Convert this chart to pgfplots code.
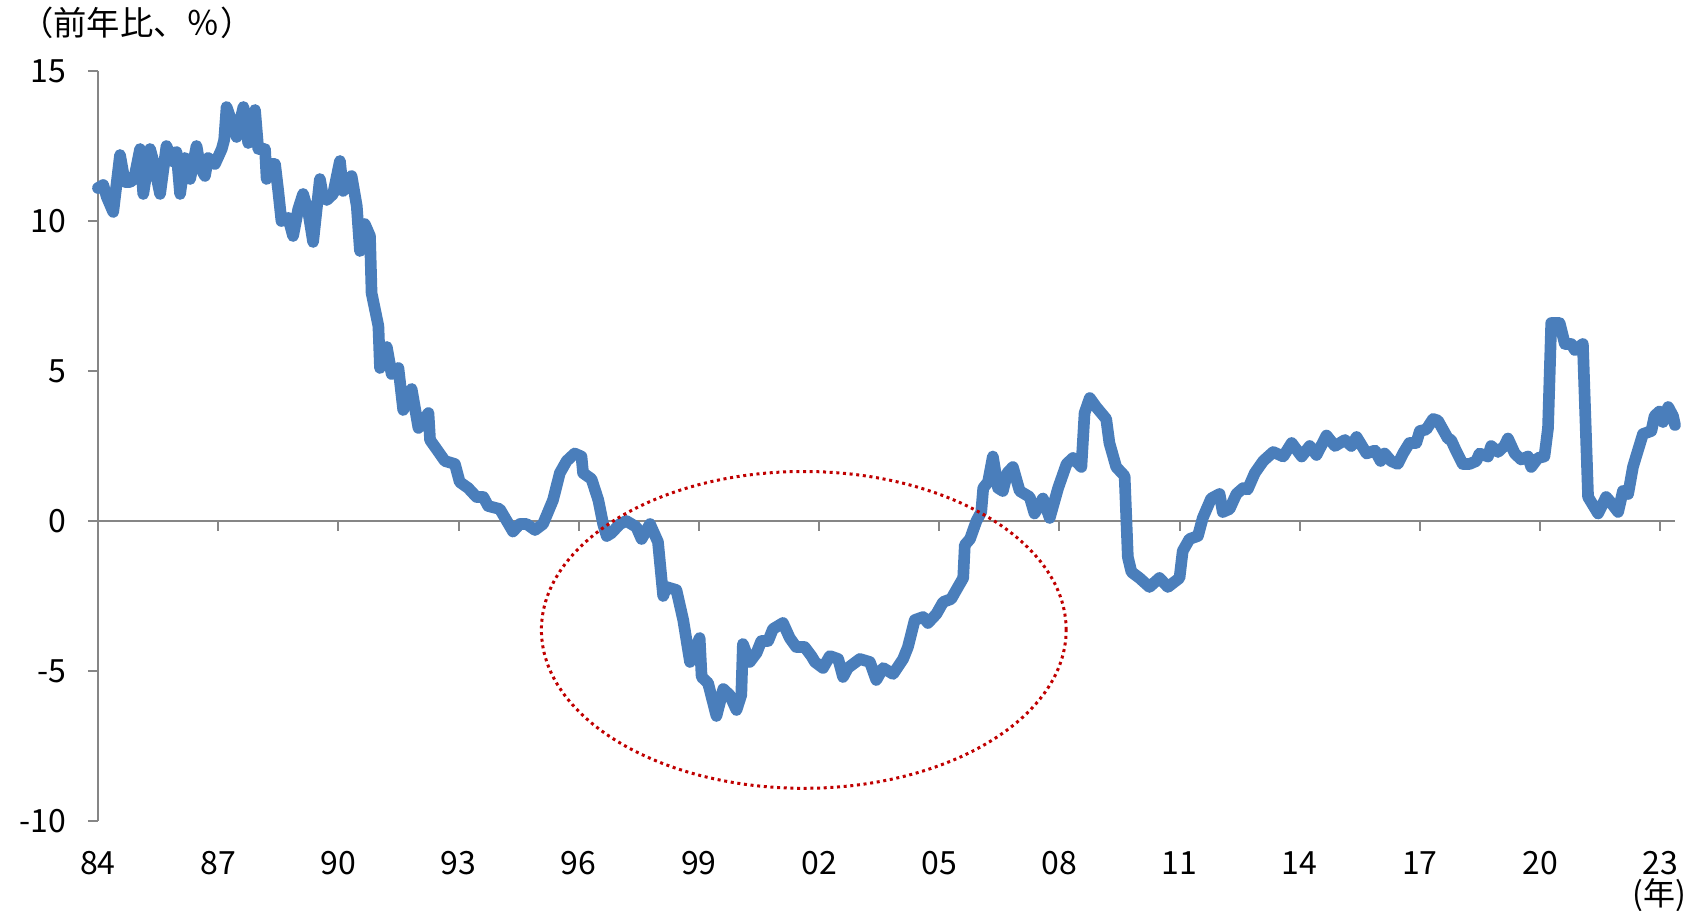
\documentclass[border=0pt]{standalone}
\usepackage{fontspec}
\setmainfont{Noto Sans CJK JP}
\usepackage{pgfplots}
\pgfplotsset{compat=1.18}
\definecolor{lineblue}{RGB}{74,126,187}
\definecolor{axgray}{RGB}{134,134,134}
\definecolor{ellred}{RGB}{192,0,0}
\begin{document}
\begin{tikzpicture}
\useasboundingbox (-29.4pt,-27pt) rectangle (480.3pt,246.3pt);
\begin{axis}[
  at={(0,0)}, anchor=south west,
  scale only axis, width=473.1pt, height=225pt,
  xmin=1984, xmax=2023.37, ymin=-10, ymax=15,
  axis lines*=left,
  x axis line style={draw=none},
  y axis line style={draw=axgray, line width=0.6pt},
  xtick={1984,1987,...,2023},
  xticklabels={84,87,90,93,96,99,02,05,08,11,14,17,20,23},
  ytick={-10,-5,0,5,10,15},
  tick align=outside,
  major tick length=3pt,
  xtick style={draw=none},
  ytick style={draw=axgray, line width=0.6pt},
  /pgf/number format/assume math mode=true,
  ticklabel style={font=\fontsize{9.6}{11}\selectfont, text=black},
  yticklabel style={xshift=-3pt},
  xticklabel style={yshift=-2.6pt},
  clip=false,
]
\draw[axgray, line width=0.6pt] (axis cs:1984,0) -- (axis cs:2023.37,0);
\pgfplotsinvokeforeach{1984,1987,1990,1993,1996,1999,2002,2005,2008,2011,2014,2017,2020,2023}{
  \draw[axgray, line width=0.6pt] (axis cs:#1,0) -- ++(0pt,-3pt);
}
\addplot[lineblue, line width=3.5pt, line join=round, line cap=round] coordinates {
(1984.00,11.1)(1984.13,11.2)(1984.22,10.8)(1984.38,10.3)(1984.55,12.2)(1984.67,11.3)
(1984.80,11.3)(1984.90,11.4)(1985.05,12.4)(1985.13,10.9)(1985.30,12.4)(1985.38,12.0)
(1985.55,10.9)(1985.71,12.5)(1985.84,12.0)(1985.96,12.3)(1986.05,10.9)(1986.17,12.1)
(1986.30,11.4)(1986.46,12.5)(1986.55,11.8)(1986.67,11.5)(1986.75,12.1)(1986.92,11.9)
(1987.09,12.4)(1987.15,12.7)(1987.21,13.8)(1987.34,13.3)(1987.46,12.8)(1987.63,13.8)
(1987.75,12.6)(1987.92,13.7)(1988.00,12.4)(1988.17,12.4)(1988.21,11.4)(1988.33,11.9)
(1988.42,11.9)(1988.50,11.0)(1988.58,10.0)(1988.75,10.1)(1988.87,9.5)(1989.00,10.4)
(1989.12,10.9)(1989.25,10.3)(1989.37,9.3)(1989.54,11.4)(1989.62,10.8)(1989.71,10.7)
(1989.87,10.9)(1990.04,12.0)(1990.12,11.0)(1990.33,11.5)(1990.46,10.5)(1990.54,9.0)
(1990.66,9.9)(1990.79,9.5)(1990.83,7.6)(1991.00,6.5)(1991.04,5.1)(1991.21,5.8)
(1991.33,4.9)(1991.50,5.1)(1991.62,3.7)(1991.83,4.4)(1992.00,3.1)(1992.25,3.6)
(1992.29,2.7)(1992.45,2.4)(1992.66,2.0)(1992.91,1.9)(1993.03,1.3)(1993.24,1.1)
(1993.45,0.8)(1993.62,0.8)(1993.74,0.5)(1994.03,0.4)(1994.36,-0.35)(1994.53,-0.1)
(1994.70,-0.1)(1994.91,-0.3)(1995.11,-0.1)(1995.36,0.7)(1995.53,1.6)(1995.70,2.0)
(1995.90,2.25)(1996.07,2.15)(1996.11,1.6)(1996.32,1.4)(1996.49,0.7)(1996.61,-0.1)
(1996.70,-0.5)(1996.82,-0.4)(1997.03,-0.1)(1997.19,0.0)(1997.44,-0.2)(1997.57,-0.6)
(1997.78,-0.1)(1997.98,-0.7)(1998.11,-2.5)(1998.19,-2.2)(1998.44,-2.3)(1998.61,-3.3)
(1998.78,-4.7)(1999.02,-3.9)(1999.07,-5.2)(1999.23,-5.4)(1999.44,-6.5)(1999.61,-5.6)
(1999.77,-5.8)(1999.94,-6.3)(2000.06,-5.8)(2000.10,-4.1)(2000.27,-4.7)(2000.44,-4.4)
(2000.56,-4.0)(2000.73,-4.0)(2000.85,-3.6)(2001.10,-3.4)(2001.27,-3.9)(2001.43,-4.2)
(2001.64,-4.2)(2001.81,-4.5)(2001.90,-4.7)(2002.10,-4.9)(2002.27,-4.5)(2002.48,-4.6)
(2002.60,-5.2)(2002.72,-4.9)(2003.02,-4.6)(2003.27,-4.7)(2003.43,-5.3)(2003.60,-4.9)
(2003.85,-5.1)(2004.10,-4.6)(2004.22,-4.2)(2004.39,-3.3)(2004.60,-3.2)(2004.72,-3.4)
(2004.93,-3.1)(2005.10,-2.7)(2005.30,-2.6)(2005.47,-2.2)(2005.60,-1.9)(2005.64,-0.8)
(2005.77,-0.6)(2005.93,0.0)(2006.05,0.3)(2006.10,1.1)(2006.22,1.3)(2006.34,2.15)
(2006.47,1.1)(2006.59,1.0)(2006.70,1.6)(2006.84,1.8)(2007.01,1.0)(2007.26,0.8)
(2007.38,0.25)(2007.59,0.75)(2007.76,0.1)(2007.97,1.1)(2008.18,1.9)(2008.34,2.1)
(2008.55,1.8)(2008.63,3.6)(2008.76,4.1)(2008.92,3.8)(2009.17,3.4)(2009.25,2.6)
(2009.42,1.8)(2009.63,1.5)(2009.71,-1.2)(2009.80,-1.7)(2010.00,-1.9)(2010.25,-2.2)
(2010.50,-1.9)(2010.71,-2.2)(2011.00,-1.9)(2011.08,-1.0)(2011.25,-0.6)(2011.46,-0.5)
(2011.58,0.1)(2011.79,0.75)(2012.00,0.9)(2012.08,0.3)(2012.25,0.4)(2012.42,0.9)
(2012.59,1.1)(2012.70,1.05)(2012.88,1.6)(2013.09,2.0)(2013.34,2.3)(2013.59,2.15)
(2013.80,2.6)(2014.05,2.15)(2014.25,2.5)(2014.42,2.2)(2014.67,2.85)(2014.88,2.5)
(2015.13,2.7)(2015.29,2.5)(2015.42,2.8)(2015.67,2.25)(2015.88,2.35)(2016.02,2.0)
(2016.12,2.25)(2016.28,2.0)(2016.45,1.9)(2016.58,2.25)(2016.74,2.6)(2016.91,2.6)
(2017.00,3.0)(2017.16,3.05)(2017.33,3.4)(2017.45,3.35)(2017.70,2.75)(2017.78,2.7)
(2017.90,2.35)(2018.07,1.9)(2018.24,1.9)(2018.41,2.0)(2018.49,2.25)(2018.70,2.15)
(2018.78,2.5)(2018.95,2.3)(2019.11,2.5)(2019.20,2.75)(2019.37,2.25)(2019.53,2.05)
(2019.70,2.15)(2019.78,1.8)(2019.95,2.1)(2020.11,2.15)(2020.20,3.1)(2020.28,6.6)
(2020.49,6.6)(2020.62,5.9)(2020.78,5.9)(2020.87,5.7)(2021.07,5.9)(2021.20,0.8)
(2021.45,0.25)(2021.65,0.8)(2021.78,0.6)(2021.95,0.3)(2022.07,1.0)(2022.20,0.9)
(2022.32,1.8)(2022.41,2.2)(2022.57,2.9)(2022.78,3.0)(2022.86,3.5)(2022.98,3.65)
(2023.07,3.3)(2023.20,3.8)(2023.32,3.5)(2023.37,3.2)
};
\draw[ellred, line width=0.9pt, dash pattern=on 0.9pt off 1.1pt]
  (axis cs:2001.62,-3.63) ellipse [x radius=6.55, y radius=5.28];
\end{axis}
\node[anchor=west, inner sep=0pt, font=\fontsize{10}{12}\selectfont] at (-23.5pt,239.4pt) {（前年比、％）};
\node[anchor=center, inner sep=0pt, font=\fontsize{9.6}{11.5}\selectfont] at (468.3pt,-22.3pt) {(年)};
\end{tikzpicture}
\end{document}
